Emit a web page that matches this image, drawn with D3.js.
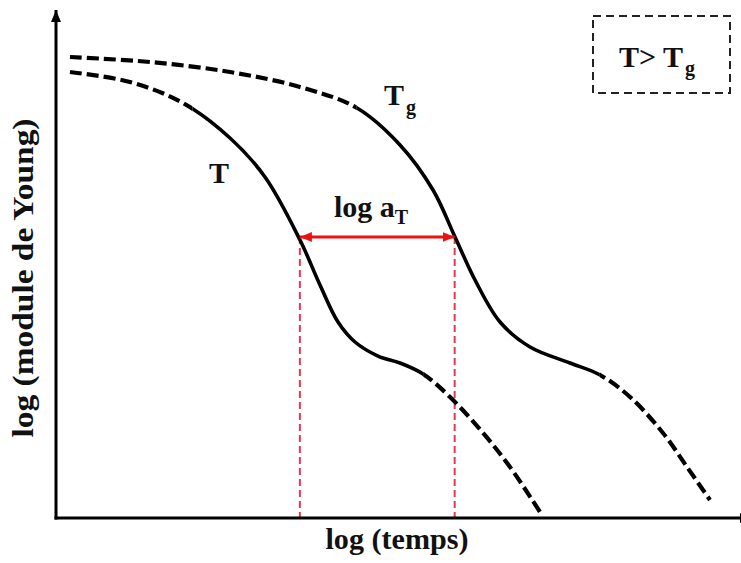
<!DOCTYPE html>
<html>
<head>
<meta charset="utf-8">
<script src="https://cdn.jsdelivr.net/npm/d3@7"></script>
<style>
  html, body { margin: 0; padding: 0; background: #fff; }
  svg { display: block; }
  text { font-family: "Liberation Serif", "DejaVu Serif", serif; font-weight: bold; fill: #111; }
</style>
</head>
<body>
<svg id="chart" width="741" height="563"></svg>
<script>
// ---- data (arbitrary log units, 0..10 on both axes) ----
const tgX = [0.204, 1.372, 2.540, 3.562, 4.394, 5.022, 5.504, 5.825, 6.117, 6.482, 6.920, 7.504, 7.942, 8.380, 8.861, 9.212, 9.547];
const tgY = [9.039, 8.941, 8.745, 8.451, 8.039, 7.314, 6.431, 5.510, 4.667, 3.843, 3.353, 3.039, 2.804, 2.373, 1.667, 1.000, 0.353];
const tX  = [0.204, 1.080, 1.854, 2.540, 3.051, 3.562, 3.854, 4.117, 4.365, 4.701, 5.022, 5.358, 5.752, 6.234, 6.628, 7.066];
const tY  = [8.745, 8.549, 8.137, 7.451, 6.686, 5.451, 4.569, 3.843, 3.451, 3.176, 3.039, 2.824, 2.373, 1.667, 1.000, 0.118];
const tgSolid = [4.39, 7.94];   // x-range drawn solid for the Tg curve
const tSolid  = [1.99, 5.36];   // x-range drawn solid for the T curve
const shiftArrow = [3.56, 5.82, 5.51]; // x start, x end, y of the log aT arrow
const labels = { xAxis: "log (temps)", yAxis: "log (module de Young)" };

// ---- scales ----
const W = 741, H = 563;
const x = d3.scaleLinear().domain([0, 10]).range([56, 741]);
const y = d3.scaleLinear().domain([0, 10]).range([518, 8]);

const svg = d3.select("#chart");
const defs = svg.append("defs");

function addClip(id, ranges) {
  const cp = defs.append("clipPath").attr("id", id);
  ranges.forEach(r => cp.append("rect")
    .attr("x", x(r[0])).attr("y", 0)
    .attr("width", x(r[1]) - x(r[0])).attr("height", H));
}
addClip("tgSolidClip", [tgSolid]);
addClip("tgDashClip", [[-1, tgSolid[0]], [tgSolid[1], 11]]);
addClip("tSolidClip", [tSolid]);
addClip("tDashClip", [[-1, tSolid[0]], [tSolid[1], 11]]);

function marker(id, color, w, h) {
  defs.append("marker").attr("id", id)
    .attr("viewBox", `0 0 ${w} ${h}`).attr("refX", w).attr("refY", h / 2)
    .attr("markerWidth", w).attr("markerHeight", h)
    .attr("markerUnits", "userSpaceOnUse").attr("orient", "auto-start-reverse")
    .append("path").attr("d", `M0,0L${w},${h / 2}L0,${h}Z`).attr("fill", color);
}
marker("blackArrow", "#000", 12, 10);
marker("redArrow", "#ee1111", 12, 10);

const line = d3.line().x(d => x(d[0])).y(d => y(d[1])).curve(d3.curveCatmullRom.alpha(0.5));

function drawCurve(xs, ys, solidClip, dashClip) {
  const pts = xs.map((v, i) => [v, ys[i]]);
  svg.append("path").attr("d", line(pts)).attr("fill", "none")
    .attr("stroke", "#000").attr("stroke-width", 4.2).attr("stroke-dasharray", "12 5")
    .attr("clip-path", `url(#${dashClip})`);
  svg.append("path").attr("d", line(pts)).attr("fill", "none")
    .attr("stroke", "#000").attr("stroke-width", 3.6)
    .attr("clip-path", `url(#${solidClip})`);
}

[shiftArrow[0], shiftArrow[1]].forEach(v => {
  svg.append("line")
    .attr("x1", x(v)).attr("x2", x(v)).attr("y1", y(shiftArrow[2])).attr("y2", y(0))
    .attr("stroke", "#e23a52").attr("stroke-width", 2).attr("stroke-dasharray", "7 4");
});

drawCurve(tgX, tgY, "tgSolidClip", "tgDashClip");
drawCurve(tX, tY, "tSolidClip", "tDashClip");

svg.append("line")
  .attr("x1", x(shiftArrow[0])).attr("x2", x(shiftArrow[1]))
  .attr("y1", y(shiftArrow[2])).attr("y2", y(shiftArrow[2]))
  .attr("stroke", "#ee1111").attr("stroke-width", 3)
  .attr("marker-start", "url(#redArrow)").attr("marker-end", "url(#redArrow)");

// axes
svg.append("line").attr("x1", x(0)).attr("x2", x(0)).attr("y1", y(0) + 1.5).attr("y2", y(10) + 2)
  .attr("stroke", "#000").attr("stroke-width", 3).attr("marker-end", "url(#blackArrow)");
svg.append("line").attr("x1", x(0) - 1.5).attr("x2", 752).attr("y1", y(0)).attr("y2", y(0))
  .attr("stroke", "#000").attr("stroke-width", 3).attr("marker-end", "url(#blackArrow)");

// axis labels
svg.append("text").attr("x", 397).attr("y", 549).attr("text-anchor", "middle")
  .attr("font-size", 29).attr("textLength", 143).attr("lengthAdjust", "spacingAndGlyphs")
  .text(labels.xAxis);
svg.append("text").attr("transform", "translate(33,278) rotate(-90)").attr("text-anchor", "middle")
  .attr("font-size", 29).attr("textLength", 319).attr("lengthAdjust", "spacingAndGlyphs")
  .text(labels.yAxis);

// curve labels
svg.append("text").attr("x", 219).attr("y", 183).attr("text-anchor", "middle")
  .attr("font-size", 30).text("T");
const tgLab = svg.append("text").attr("x", 384).attr("y", 105).attr("font-size", 30);
tgLab.append("tspan").text("T");
tgLab.append("tspan").attr("font-size", 20).attr("dy", 9).attr("dx", 2).text("g");

const aLab = svg.append("text").attr("x", 334).attr("y", 217).attr("font-size", 30);
aLab.append("tspan").text("log a");
aLab.append("tspan").attr("font-size", 20).attr("dy", 7).text("T");

// legend box
svg.append("rect").attr("x", 593).attr("y", 16).attr("width", 137).attr("height", 77)
  .attr("fill", "none").attr("stroke", "#222").attr("stroke-width", 2).attr("stroke-dasharray", "8 5");
const leg = svg.append("text").attr("x", 619).attr("y", 67).attr("font-size", 30);
leg.append("tspan").text("T> T");
leg.append("tspan").attr("font-size", 20).attr("dy", 8).attr("dx", 2).text("g");
</script>
</body>
</html>
